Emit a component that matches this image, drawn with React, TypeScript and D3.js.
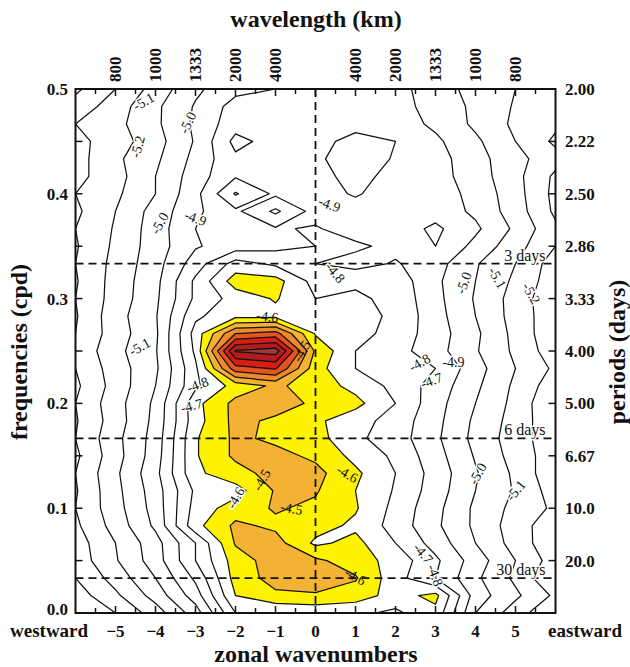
import React from "react";
import * as d3 from "d3";

// grid columns: zonal wavenumbers
const wavenumbers = [-6, -5, -4, -3, -2, -1, 0, 1, 2, 3, 4, 5, 6];
// grid rows: frequencies (cpd), top row first
const frequencies = [
  0.5, 0.4833, 0.4667, 0.45, 0.4333, 0.4167, 0.4, 0.3833, 0.3667, 0.35, 0.3333,
  0.3167, 0.3, 0.2833, 0.2667, 0.25, 0.2333, 0.2167, 0.2, 0.1833, 0.1667, 0.15,
  0.1333, 0.1167, 0.1, 0.0833, 0.0667, 0.05, 0.0333, 0.0167, 0,
];

// log10 power, one row per frequency, one value per wavenumber
const logPower = [
  [-5.42, -5.30, -5.16, -5.02, -4.93, -4.90, -4.88, -4.87, -4.86, -4.96, -5.03, -5.10, -5.20],
  [-5.36, -5.25, -5.12, -4.99, -4.86, -4.85, -4.86, -4.85, -4.86, -4.94, -5.02, -5.11, -5.17],
  [-5.30, -5.23, -5.12, -4.98, -4.84, -4.83, -4.85, -4.84, -4.85, -4.92, -5.02, -5.12, -5.18],
  [-5.33, -5.25, -5.14, -4.99, -4.77, -4.84, -4.84, -4.76, -4.80, -4.88, -4.98, -5.10, -5.22],
  [-5.34, -5.22, -5.12, -4.97, -4.82, -4.83, -4.82, -4.74, -4.81, -4.86, -4.96, -5.07, -5.16],
  [-5.33, -5.24, -5.10, -4.95, -4.81, -4.84, -4.83, -4.77, -4.83, -4.86, -4.95, -5.07, -5.22],
  [-5.30, -5.22, -5.10, -4.93, -4.69, -4.82, -4.84, -4.79, -4.85, -4.85, -4.93, -5.06, -5.23],
  [-5.32, -5.20, -5.06, -4.92, -4.82, -4.68, -4.84, -4.84, -4.86, -4.84, -4.92, -5.05, -5.22],
  [-5.30, -5.19, -5.05, -4.90, -4.84, -4.81, -4.79, -4.85, -4.85, -4.78, -4.88, -5.02, -5.18],
  [-5.31, -5.18, -5.05, -4.91, -4.85, -4.83, -4.80, -4.78, -4.83, -4.80, -4.93, -5.06, -5.20],
  [-5.30, -5.17, -5.04, -4.85, -4.66, -4.72, -4.80, -4.84, -4.79, -4.86, -4.99, -5.10, -5.25],
  [-5.31, -5.16, -5.03, -4.78, -4.55, -4.56, -4.74, -4.72, -4.74, -4.88, -5.00, -5.12, -5.26],
  [-5.30, -5.16, -5.02, -4.78, -4.66, -4.59, -4.70, -4.68, -4.73, -4.87, -5.01, -5.14, -5.28],
  [-5.31, -5.14, -5.01, -4.72, -4.63, -4.63, -4.68, -4.66, -4.72, -4.86, -5.00, -5.14, -5.27],
  [-5.30, -5.15, -5.02, -4.66, -4.30, -4.26, -4.61, -4.66, -4.74, -4.85, -4.98, -5.13, -5.28],
  [-5.28, -5.13, -5.01, -4.68, -3.99, -3.95, -4.52, -4.70, -4.76, -4.86, -4.99, -5.12, -5.26],
  [-5.30, -5.15, -5.02, -4.72, -4.24, -4.19, -4.56, -4.70, -4.72, -4.80, -4.96, -5.10, -5.22],
  [-5.32, -5.16, -5.00, -4.72, -4.56, -4.48, -4.55, -4.63, -4.73, -4.84, -4.98, -5.12, -5.26],
  [-5.30, -5.14, -4.98, -4.63, -4.47, -4.45, -4.52, -4.57, -4.70, -4.86, -5.00, -5.13, -5.30],
  [-5.31, -5.15, -4.97, -4.64, -4.47, -4.52, -4.58, -4.66, -4.74, -4.87, -5.02, -5.14, -5.28],
  [-5.30, -5.13, -4.96, -4.61, -4.48, -4.52, -4.56, -4.68, -4.75, -4.88, -5.03, -5.15, -5.27],
  [-5.32, -5.14, -4.95, -4.61, -4.48, -4.47, -4.52, -4.63, -4.72, -4.86, -5.01, -5.14, -5.26],
  [-5.30, -5.12, -4.93, -4.62, -4.54, -4.46, -4.47, -4.58, -4.70, -4.84, -4.99, -5.12, -5.28],
  [-5.31, -5.13, -4.95, -4.68, -4.64, -4.49, -4.49, -4.60, -4.71, -4.85, -5.00, -5.11, -5.25],
  [-5.30, -5.14, -4.96, -4.66, -4.55, -4.49, -4.52, -4.59, -4.73, -4.87, -5.02, -5.13, -5.22],
  [-5.32, -5.16, -4.98, -4.63, -4.48, -4.52, -4.56, -4.62, -4.74, -4.88, -5.02, -5.15, -5.27],
  [-5.35, -5.20, -5.04, -4.80, -4.49, -4.46, -4.62, -4.57, -4.70, -4.84, -5.00, -5.14, -5.28],
  [-5.36, -5.21, -5.05, -4.80, -4.55, -4.45, -4.48, -4.55, -4.64, -4.78, -4.95, -5.10, -5.25],
  [-5.40, -5.26, -5.10, -4.88, -4.56, -4.46, -4.45, -4.49, -4.66, -4.80, -4.98, -5.12, -5.30],
  [-5.45, -5.32, -5.16, -4.95, -4.60, -4.52, -4.51, -4.55, -4.64, -4.57, -4.95, -5.08, -5.22],
  [-5.50, -5.40, -5.25, -5.05, -4.70, -4.70, -4.68, -4.68, -4.72, -4.63, -5.00, -5.15, -5.30],
];

const lineLevels = [-5.5, -5.4, -5.3, -5.2, -5.1, -5.0, -4.9, -4.8, -4.7, -4.6, -4.5, -4.4, -4.3, -4.2, -4.1, -4.0];
const fillLevels = [-4.6, -4.5, -4.4, -4.3, -4.2, -4.1, -4.0];
const fillColors = ["#fdf200", "#f4b234", "#ef8a2a", "#e6541e", "#d81c16", "#b21c1c", "#9a3a3a"];

const freqTicks = [0, 0.1, 0.2, 0.3, 0.4, 0.5];
const periodFreqs = [0.5, 0.45, 0.4, 0.35, 0.3, 0.25, 0.2, 0.15, 0.1, 0.05];
const periodLabels = ["2.00", "2.22", "2.50", "2.86", "3.33", "4.00", "5.00", "6.67", "10.0", "20.0"];
const wavenumberTicks = [-5, -4, -3, -2, -1, 0, 1, 2, 3, 4, 5];
const wavelengthK = [-5, -4, -3, -2, -1, 1, 2, 3, 4, 5];
const wavelengthLabels = ["800", "1000", "1333", "2000", "4000", "4000", "2000", "1333", "1000", "800"];

const periodLines = [1 / 3, 1 / 6, 1 / 30];
const periodLineLabels = ["3 days", "6 days", "30 days"];

// contour labels: [wavenumber, frequency, text, angle, halo]
const contourLabels: [number, number, string, number, boolean][] = [
  [-4.45, 0.445, "-5.2", -75, true],
  [-4.3, 0.488, "-5.1", -30, true],
  [-3.2, 0.468, "-5.0", -65, true],
  [-3.9, 0.372, "-5.0", -60, true],
  [-3.0, 0.377, "-4.9", 20, true],
  [-4.4, 0.254, "-5.1", -30, true],
  [-2.95, 0.218, "-4.8", -20, true],
  [-3.1, 0.198, "-4.7", -15, true],
  [-1.2, 0.283, "-4.6", 8, false],
  [-0.35, 0.25, "-4.5", -60, false],
  [-1.35, 0.127, "-4.5", -60, false],
  [-2.0, 0.11, "-4.6", -60, true],
  [-0.6, 0.1, "-4.5", 10, false],
  [0.8, 0.133, "-4.6", 30, false],
  [1.0, 0.035, "-4.6", 30, false],
  [3.7, 0.315, "-5.0", -70, true],
  [4.55, 0.32, "-5.1", 60, true],
  [5.4, 0.305, "-5.2", 60, true],
  [2.6, 0.239, "-4.8", -30, true],
  [3.45, 0.239, "-4.9", 0, true],
  [2.9, 0.222, "-4.7", -20, true],
  [4.05, 0.133, "-5.0", -60, true],
  [5.0, 0.117, "-5.1", -50, true],
  [2.7, 0.057, "-4.7", 50, true],
  [3.0, 0.036, "-4.8", 70, true],
  [0.35, 0.39, "-4.9", 20, true],
  [0.5, 0.325, "-4.8", 50, true],
];

const serif = '"Liberation Serif", "Times New Roman", serif';

export default function App() {
  const x = d3.scaleLinear().domain([-6, 6]).range([75.5, 555.5]);
  const y = d3.scaleLinear().domain([0, 0.5]).range([613, 89]);

  const nx = wavenumbers.length;
  const ny = frequencies.length;
  const gx = d3.scaleLinear().domain([0.5, nx - 0.5]).range([x(wavenumbers[0]), x(wavenumbers[nx - 1])]);
  const gy = d3.scaleLinear().domain([0.5, ny - 0.5]).range([y(frequencies[0]), y(frequencies[ny - 1])]);

  const values = logPower.flat();
  const path = d3.geoPath(
    d3.geoTransform({
      point(px: number, py: number) {
        (this as any).stream.point(gx(px), gy(py));
      },
    })
  );

  const fills = d3.contours().size([nx, ny]).thresholds(fillLevels)(values);
  const lines = d3.contours().size([nx, ny]).thresholds(lineLevels)(values);

  const [x0, x1] = x.range();
  const [yb, yt] = y.range();
  const halfTicks = x.ticks(24).filter((k) => k > -6 && k < 6);
  const freqMinor = y.ticks(10).filter((f) => f > 0 && f < 0.5);

  return (
    <svg width={630} height={667} style={{ position: "absolute", left: 0, top: 0, background: "#fff" }} fontFamily={serif}>
      <defs>
        <clipPath id="frame">
          <rect x={x0} y={yt} width={x1 - x0} height={yb - yt} />
        </clipPath>
      </defs>
      <rect x={0} y={0} width={630} height={667} fill="#fff" />

      <g clipPath="url(#frame)">
        {fills.map((c, i) => (
          <path key={"f" + i} d={path(c as any) || ""} fill={fillColors[i]} fillRule="evenodd" stroke="none" />
        ))}
        {lines.map((c, i) => (
          <path key={"l" + i} d={path(c as any) || ""} fill="none" stroke="#111" strokeWidth={1.25} strokeLinejoin="round" />
        ))}
      </g>

      {/* period reference lines */}
      <line x1={x(0)} x2={x(0)} y1={yt} y2={yb} stroke="#111" strokeWidth={1.8} strokeDasharray="8,5" />
      {periodLines.map((f, i) => (
        <g key={"p" + i}>
          <line x1={x0} x2={x1} y1={y(f)} y2={y(f)} stroke="#111" strokeWidth={1.8} strokeDasharray="8,5" />
          <text x={x1 - 10} y={y(f) - 3} textAnchor="end" fontSize={16} fill="#111"
            stroke="#fff" strokeWidth={3} paintOrder="stroke">{periodLineLabels[i]}</text>
        </g>
      ))}

      {/* contour labels */}
      {contourLabels.map(([k, f, t, a, halo], i) => (
        <text key={"c" + i} transform={`translate(${x(k)},${y(f)}) rotate(${a})`} textAnchor="middle" dy="0.35em"
          fontSize={14} fill="#111" stroke={halo ? "#fff" : "none"} strokeWidth={3} paintOrder="stroke">{t}</text>
      ))}

      {/* frame */}
      <rect x={x0} y={yt} width={x1 - x0} height={yb - yt} fill="none" stroke="#111" strokeWidth={2} />

      {/* bottom and top ticks */}
      {halfTicks.map((k) => {
        const len = Number.isInteger(k) ? 7 : 5;
        return (
          <g key={"t" + k}>
            <line x1={x(k)} x2={x(k)} y1={yb} y2={yb - len} stroke="#111" strokeWidth={1.5} />
            <line x1={x(k)} x2={x(k)} y1={yt} y2={yt + len} stroke="#111" strokeWidth={1.5} />
          </g>
        );
      })}
      {/* left ticks */}
      {freqMinor.map((f) => (
        <line key={"lt" + f} x1={x0} x2={x0 + 7} y1={y(f)} y2={y(f)} stroke="#111" strokeWidth={1.5} />
      ))}
      {/* right ticks */}
      {periodFreqs.filter((f) => f < 0.5).map((f) => (
        <line key={"rt" + f} x1={x1} x2={x1 - 7} y1={y(f)} y2={y(f)} stroke="#111" strokeWidth={1.5} />
      ))}

      {/* axis labels */}
      <g fontWeight="bold" fill="#111">
        {freqTicks.map((f) => (
          <text key={"fl" + f} x={68} y={y(f)} dy={f === 0 ? "0.1em" : "0.35em"} textAnchor="end" fontSize={17}>{d3.format(".1f")(f)}</text>
        ))}
        {periodFreqs.map((f, i) => (
          <text key={"pl" + f} x={565} y={y(f)} dy="0.35em" textAnchor="start" fontSize={17}>{periodLabels[i]}</text>
        ))}
        {wavenumberTicks.map((k) => (
          <text key={"wl" + k} x={x(k)} y={637} textAnchor="middle" fontSize={17}>{k < 0 ? "\u2212" + Math.abs(k) : String(k)}</text>
        ))}
        <text x={10} y={637} textAnchor="start" fontSize={19}>westward</text>
        <text x={622} y={637} textAnchor="end" fontSize={19}>eastward</text>
        {wavelengthK.map((k, i) => (
          <text key={"wk" + i} transform={`translate(${x(k)},82) rotate(-90)`} dy="0.35em" textAnchor="start" fontSize={17}>
            {wavelengthLabels[i]}
          </text>
        ))}
        <text x={316} y={27} textAnchor="middle" fontSize={24}>wavelength (km)</text>
        <text x={316} y={662} textAnchor="middle" fontSize={24}>zonal wavenumbers</text>
        <text transform="translate(27,352) rotate(-90)" textAnchor="middle" fontSize={24}>frequencies (cpd)</text>
        <text transform="translate(625,352) rotate(-90)" textAnchor="middle" fontSize={24}>periods (days)</text>
      </g>
    </svg>
  );
}
